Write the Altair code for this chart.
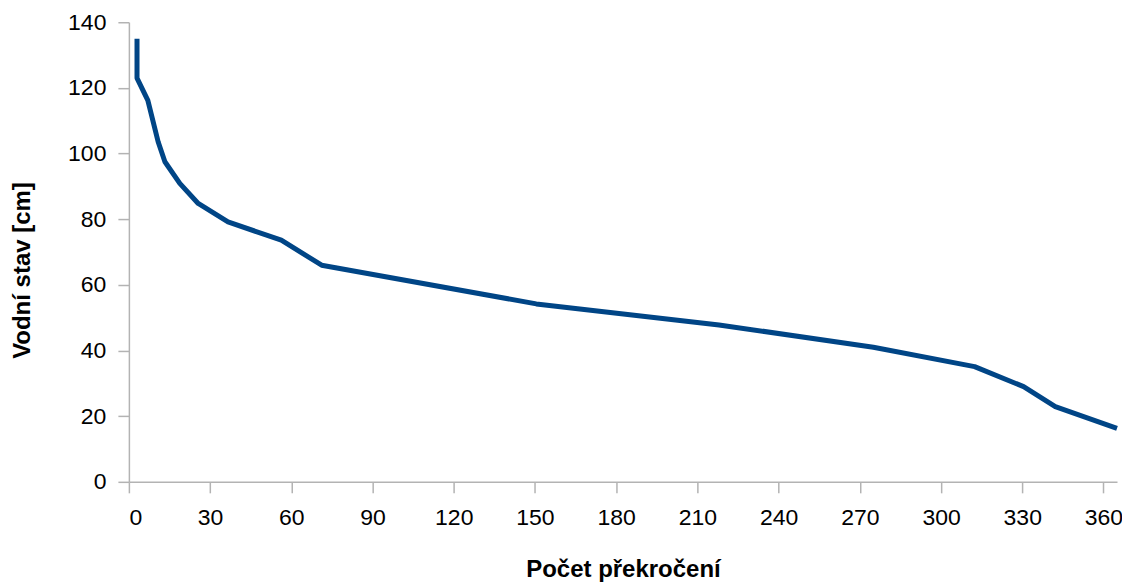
import altair as alt
import pandas as pd

days = [3, 3, 7, 10.8, 13.3, 18.8, 25.6, 36.6, 56.3, 71.2, 150.5, 218, 275, 312.4, 330.5, 342.2, 365]
levels = [135, 123, 116.2, 103.6, 97.5, 90.9, 84.8, 79.2, 73.6, 66, 54.2, 47.8, 41, 35.1, 29, 22.9, 16.3]
x_ticks = list(range(0, 361, 30))
y_ticks = list(range(0, 141, 20))

df = pd.DataFrame({"x": days, "y": levels, "order": list(range(len(days)))})

axis_common = dict(
    grid=False,
    domainColor="#b3b3b3",
    tickColor="#b3b3b3",
    domainWidth=1.5,
    tickWidth=1.5,
    tickSize=11,
    labelFont="Liberation Sans",
    labelFontSize=23,
    labelColor="#000000",
    titleFont="Liberation Sans",
    titleFontSize=24,
    titleFontWeight="bold",
    titleColor="#000000",
)

chart = alt.Chart(df).mark_line(color="#004586", strokeWidth=5, strokeCap="butt", strokeJoin="round").encode(
    x=alt.X("x:Q", scale=alt.Scale(domain=[0, 365], nice=False, zero=True),
            axis=alt.Axis(values=x_ticks, title="Počet překročení", labelPadding=14, titlePadding=28, **axis_common)),
    y=alt.Y("y:Q", scale=alt.Scale(domain=[0, 140], nice=False),
            axis=alt.Axis(values=y_ticks, title="Vodní stav [cm]", labelPadding=12, titlePadding=33,
                          titleY=248, **axis_common)),
    order="order:Q",
).properties(
    width=989, height=460,
    background="white",
    autosize=alt.AutoSizeParams(type="none"),
    padding={"left": 121, "top": 14, "right": 5, "bottom": 100},
).configure_view(strokeWidth=0, stroke="transparent")

chart.save("out.html", embed_options={"renderer": "svg", "actions": False})
